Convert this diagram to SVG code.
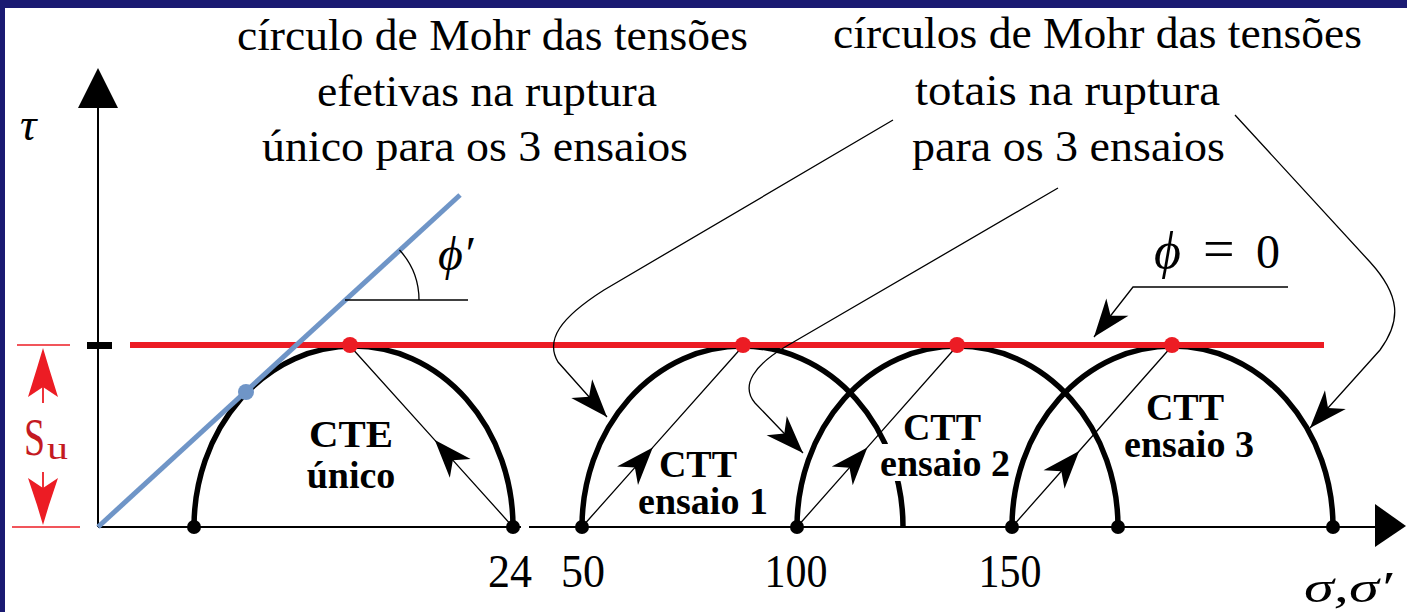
<svg xmlns="http://www.w3.org/2000/svg" width="1407" height="612" viewBox="0 0 1407 612">
<style>
.t{font-family:"Liberation Serif","Times New Roman","DejaVu Serif",serif;fill:#000}
.title{font-size:45px}
.lbl{font-size:38px;font-weight:bold}
.num{font-size:47px}
.math{font-family:"Liberation Serif","DejaVu Serif",serif;font-style:italic;fill:#000}
.arc{fill:none;stroke:#000;stroke-width:5.5}
.thin{fill:none;stroke:#000;stroke-width:1.3}
.rad{fill:none;stroke:#000;stroke-width:1.3;marker-mid:url(#stealth)}
.lead{fill:none;stroke:#000;stroke-width:1.3;marker-end:url(#stealth)}
.bd{fill:#000}
.rd{fill:#ec1c24}
</style>
<defs>
<marker id="stealth" markerUnits="userSpaceOnUse" viewBox="-40 -16 42 32" markerWidth="42" markerHeight="32" refX="0" refY="0" orient="auto">
<path d="M0,0 L-38,-14 L-27,0 L-38,14 Z" fill="#000"/>
</marker>
</defs>
<rect x="0" y="0" width="1407" height="612" fill="#1a1a72"/>
<rect x="5" y="8" width="1402" height="604" fill="#fff"/>

<g id="axes">
<line x1="98" y1="100" x2="98" y2="527" stroke="#000" stroke-width="2"/>
<polygon points="98,68 78,108 118,108" fill="#000"/>
<line x1="98" y1="527" x2="521" y2="527" stroke="#000" stroke-width="2"/>
<line x1="529" y1="527" x2="1378" y2="527" stroke="#000" stroke-width="2"/>
<polygon points="1406,526 1375,504 1375,547" fill="#000"/>
<rect x="87" y="342" width="25" height="7" fill="#000"/>
<text class="math" x="20" y="140" font-size="46">τ</text>
<text class="math" x="1304" y="602" font-size="44" textLength="88" lengthAdjust="spacingAndGlyphs">σ,σ′</text>
<text class="t num" x="510" y="587" text-anchor="middle" textLength="44" lengthAdjust="spacingAndGlyphs">24</text>
<text class="t num" x="583" y="587" text-anchor="middle" textLength="44" lengthAdjust="spacingAndGlyphs">50</text>
<text class="t num" x="796" y="587" text-anchor="middle" textLength="63" lengthAdjust="spacingAndGlyphs">100</text>
<text class="t num" x="1010" y="587" text-anchor="middle" textLength="63" lengthAdjust="spacingAndGlyphs">150</text>
</g>

<g id="su-dimension">
<line x1="17" y1="345" x2="70" y2="345" stroke="#ec1c24" stroke-width="1.6"/>
<line x1="12" y1="527" x2="80" y2="527" stroke="#ec1c24" stroke-width="1.6"/>
<line x1="43" y1="385" x2="43" y2="403" stroke="#ec1c24" stroke-width="1.8"/>
<polygon points="43,348 37,368 28,397 43,387 58,397 49,368" fill="#ec1c24"/>
<line x1="43" y1="472" x2="43" y2="490" stroke="#ec1c24" stroke-width="1.8"/>
<polygon points="43,525 37,505 28,478 43,488 58,478 49,505" fill="#ec1c24"/>
<text x="24" y="455" font-family="Liberation Serif, serif" font-size="52" fill="#c41a22" textLength="21" lengthAdjust="spacingAndGlyphs">S</text>
<text x="47" y="459" font-family="Liberation Serif, serif" font-size="32" fill="#c41a22" textLength="21" lengthAdjust="spacingAndGlyphs">u</text>
</g>

<g id="circle-cte">
<path class="arc" d="M194,527 A159.5,181 0 0 1 513,527"/>
<path class="rad" d="M513,527 L434.8,440.1 L350,346"/>
<circle class="bd" cx="194" cy="527" r="7"/>
<circle class="bd" cx="513" cy="527" r="7"/>
<text class="t lbl" x="351" y="447" text-anchor="middle" textLength="84" lengthAdjust="spacingAndGlyphs">CTE</text>
<text class="t lbl" x="351" y="488" text-anchor="middle">único</text>
</g>

<g id="circle-ctt1">
<path class="arc" d="M582,527 A160.5,181 0 0 1 903,527"/>
<path class="rad" d="M582,527 L652.8,447.4 L743,346"/>
<circle class="bd" cx="582" cy="527" r="7"/>
<text class="t lbl" x="698" y="477" text-anchor="middle">CTT</text>
<text class="t lbl" x="703" y="514" text-anchor="middle">ensaio 1</text>
</g>

<g id="circle-ctt2">
<path class="arc" d="M797,527 A160.5,181 0 0 1 1118,527"/>
<path class="rad" d="M797,527 L867.4,447.4 L957,346"/>
<circle class="bd" cx="797" cy="527" r="7"/>
<circle class="bd" cx="1118" cy="527" r="7"/>
<rect x="880" y="444" width="133" height="37" fill="#fff"/>
<text class="t lbl" x="942" y="440" text-anchor="middle">CTT</text>
<text class="t lbl" x="945" y="476" text-anchor="middle">ensaio 2</text>
</g>

<g id="circle-ctt3">
<path class="arc" d="M1012,527 A160.5,181 0 0 1 1333,527"/>
<path class="rad" d="M1012,527 L1079.2,451 L1172,346"/>
<circle class="bd" cx="1012" cy="527" r="7"/>
<circle class="bd" cx="1333" cy="527" r="7"/>
<text class="t lbl" x="1185" y="420" text-anchor="middle">CTT</text>
<text class="t lbl" x="1189" y="457" text-anchor="middle">ensaio 3</text>
</g>

<g id="envelope-total">
<line x1="130" y1="345" x2="1324" y2="345" stroke="#ec1c24" stroke-width="6"/>
<circle class="rd" cx="350" cy="345" r="8"/>
<circle class="rd" cx="743" cy="345" r="8"/>
<circle class="rd" cx="957" cy="345" r="8"/>
<circle class="rd" cx="1172" cy="345" r="8"/>
<text y="268" font-family="Liberation Serif, DejaVu Serif, serif" font-size="48"><tspan x="1154" font-style="italic" font-size="52">ϕ</tspan><tspan x="1203" font-size="56">=</tspan><tspan x="1256">0</tspan></text>
</g>

<g id="envelope-effective">
<line x1="98" y1="527" x2="460" y2="195" stroke="#6f95c7" stroke-width="5"/>
<circle cx="246" cy="392" r="8" fill="#6f95c7"/>
<line class="thin" x1="345" y1="300" x2="468" y2="300"/>
<path class="thin" d="M399.5,250 A74,74 0 0 1 419,300"/>
<text class="math" x="438" y="270" font-size="48">ϕ′</text>
</g>

<g id="title-left">
<text class="t title" x="237" y="50" textLength="511" lengthAdjust="spacingAndGlyphs">círculo de Mohr das tensões</text>
<text class="t title" x="317" y="106" textLength="340" lengthAdjust="spacingAndGlyphs">efetivas na ruptura</text>
<text class="t title" x="262" y="161" textLength="426" lengthAdjust="spacingAndGlyphs">único para os 3 ensaios</text>
</g>

<g id="title-right">
<text class="t title" x="833" y="48" textLength="529" lengthAdjust="spacingAndGlyphs">círculos de Mohr das tensões</text>
<text class="t title" x="915" y="105" textLength="305" lengthAdjust="spacingAndGlyphs">totais na ruptura</text>
<text class="t title" x="912" y="161" textLength="313" lengthAdjust="spacingAndGlyphs">para os 3 ensaios</text>
</g>

<g id="connectors">
<path class="lead" d="M893,120 L604,290 C560,318 545,340 558,362 L607,417"/>
<path class="lead" d="M1058,188 L785,347 C755,365 740,385 755,403 L803,453"/>
<path class="lead" d="M1235,115 L1370,262 C1400,295 1402,320 1380,350 L1310,428"/>
<path class="lead" d="M1288,287 L1133,287 L1094,337"/>
</g>
</svg>
